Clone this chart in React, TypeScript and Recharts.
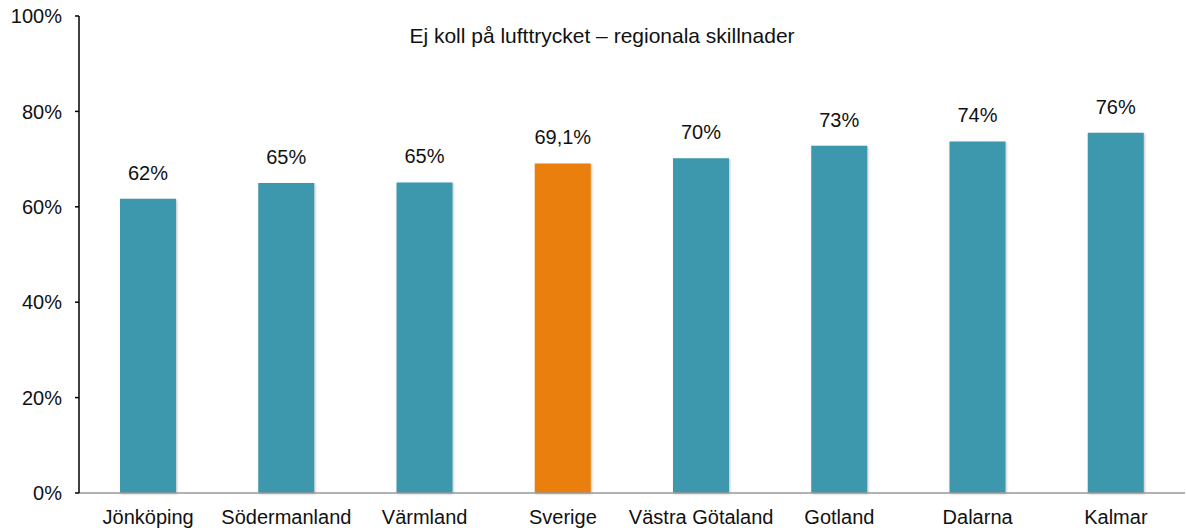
import { BarChart, Bar, XAxis, YAxis, LabelList, Cell } from 'recharts';

const regions = ['Jönköping', 'Södermanland', 'Värmland', 'Sverige', 'Västra Götaland', 'Gotland', 'Dalarna', 'Kalmar'];
const shares = [61.7, 65.0, 65.1, 69.1, 70.2, 72.8, 73.7, 75.5];
const shareLabels = ['62%', '65%', '65%', '69,1%', '70%', '73%', '74%', '76%'];
const yTicks = [0, 20, 40, 60, 80, 100];
const edgeTicks = [0, 1, 2, 3, 4, 5, 6, 7, 8];
const highlight = 'Sverige';

const data = regions.map((name, i) => ({ name, value: shares[i], label: shareLabels[i] }));

const FONT = 'Helvetica, Arial, "Liberation Sans", sans-serif';

export default function App() {
  return (
    <div style={{ position: 'absolute', left: 0, top: 0, width: 1186, height: 531, background: '#fff', fontFamily: FONT }}>
      <div
        style={{
          position: 'absolute',
          left: 0,
          width: 1204,
          top: 24,
          textAlign: 'center',
          fontSize: 21,
          color: '#111',
        }}
      >
        Ej koll på lufttrycket – regionala skillnader
      </div>
      <BarChart width={1186} height={531} data={data} margin={{ top: 16, right: 1, left: 0, bottom: 0 }}>
        <defs>
          <filter id="barShadow" x="-20%" y="-10%" width="140%" height="120%">
            <feDropShadow dx="1" dy="1" stdDeviation="1.2" floodColor="#000" floodOpacity="0.25" />
          </filter>
        </defs>
        {/* category boundary ticks */}
        <XAxis
          xAxisId="edges"
          type="number"
          domain={[0, 8]}
          ticks={edgeTicks}
          height={0}
          axisLine={false}
          tickLine={{ stroke: '#999', strokeWidth: 1.5 }}
          tickSize={5}
          tickFormatter={() => ''}
        />
        <XAxis
          xAxisId="cat"
          dataKey="name"
          height={38}
          axisLine={{ stroke: '#999', strokeWidth: 1.5 }}
          tickLine={false}
          tickSize={0}
          tickMargin={17}
          interval={0}
          tick={{ fontSize: 20, fill: '#111', fontFamily: FONT }}
        />
        <YAxis
          width={79}
          domain={[0, 100]}
          ticks={yTicks}
          tickFormatter={(v) => `${v}%`}
          axisLine={{ stroke: '#000', strokeWidth: 1.5 }}
          tickLine={{ stroke: '#000', strokeWidth: 1.5 }}
          tickSize={4}
          tickMargin={13}
          tick={{ fontSize: 20, fill: '#111', fontFamily: FONT }}
        />
        <Bar xAxisId="cat" dataKey="value" barSize={56} isAnimationActive={false} filter="url(#barShadow)">
          {data.map((d) => (
            <Cell key={d.name} fill={d.name === highlight ? '#EB7F07' : '#3E97AD'} />
          ))}
          <LabelList dataKey="label" position="top" offset={19} style={{ fontSize: 20, fill: '#111', fontFamily: FONT }} />
        </Bar>
      </BarChart>
    </div>
  );
}
